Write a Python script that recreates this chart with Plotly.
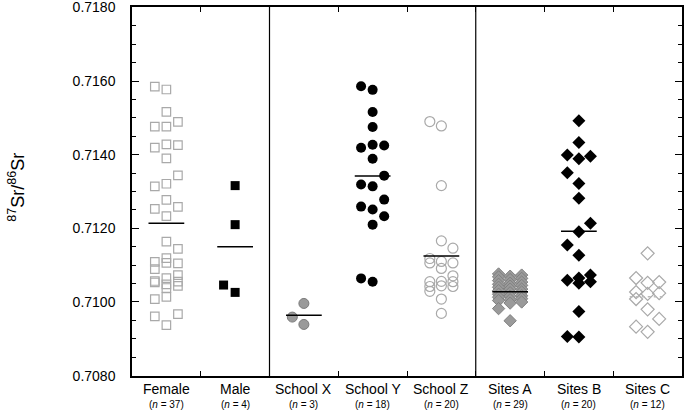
import plotly.graph_objects as go

# ---------------- data ----------------
categories = ["Female", "Male", "School X", "School Y", "School Z", "Sites A", "Sites B", "Sites C"]
n_labels = ["37", "4", "3", "18", "20", "29", "20", "12"]
y_ticks = [0.7080, 0.7100, 0.7120, 0.7140, 0.7160, 0.7180]

female = [0.71585, 0.71577, 0.71516, 0.71476, 0.71476, 0.71489, 0.71419, 0.71428, 0.71426,
          0.71390, 0.71344, 0.71314, 0.71321, 0.71277, 0.71253, 0.71258, 0.71233,
          0.71109, 0.71089, 0.71057, 0.71008, 0.70961, 0.71053,
          0.71164, 0.71119, 0.71106, 0.71065, 0.71048, 0.71038, 0.71014, 0.70937,
          0.71144, 0.71105, 0.71073, 0.71055, 0.71044, 0.70967]
female_col = [-1, 0, 0, -1, 0, 1, -1, 0, 1,
              0, 1, -1, 0, 0, -1, 1, 0,
              -1, -1, -1, -1, -1, -1,
              0, 0, 0, 0, 0, 0, 0, 0,
              1, 1, 1, 1, 1, 1]

male = [0.71316, 0.71210, 0.71046, 0.71026]
male_col = [0, 0, -1, 0]

school_x = [0.70996, 0.70959, 0.70939]
school_x_col = [0, -1, 0]

school_y = [0.71586, 0.71576, 0.71516, 0.71475, 0.71419, 0.71427, 0.71425, 0.71389, 0.71343,
            0.71319, 0.71314, 0.71278, 0.71259, 0.71251, 0.71233, 0.71210, 0.71064, 0.71055]
school_y_col = [-1, 0, 0, 0, -1, 0, 1, 0, 1,
                -1, 0, 1, -1, 0, 1, 0, -1, 0]

school_z = [0.71490, 0.71478, 0.71316, 0.71166, 0.71146, 0.71118, 0.71106, 0.71110, 0.71091,
            0.71106, 0.71071, 0.71055, 0.71055, 0.71042, 0.71029, 0.71056, 0.71044, 0.71042,
            0.71008, 0.70969]
school_z_col = [-1, 0, 0, 0, 1, -1, -1, 0, 0,
                1, 1, 1, -1, -1, -1, 0, 0, 1,
                0, 0]

sites_a = [0.71076, 0.71068, 0.71058, 0.71048, 0.71040, 0.71031, 0.71021, 0.71013, 0.71004, 0.70982,
           0.71070, 0.71061, 0.71051, 0.71043, 0.71035, 0.71025, 0.71016, 0.71006, 0.70997, 0.70949,
           0.71073, 0.71064, 0.71054, 0.71045, 0.71035, 0.71027, 0.71017, 0.71009, 0.71000]
sites_a_col = [-1] * 10 + [0] * 10 + [1] * 9

sites_b = [0.71492, 0.71433, 0.71399, 0.71389, 0.71396, 0.71351, 0.71322, 0.71282, 0.71214, 0.71191,
           0.71155, 0.71127, 0.71059, 0.71065, 0.71051, 0.71073, 0.71055, 0.70974, 0.70906, 0.70905]
sites_b_col = [0, 0, -1, 0, 1, -1, 0, 0, 1, 0,
               -1, 0, -1, 0, 0, 1, 1, 0, -1, 0]

sites_c = [0.71132, 0.71065, 0.71052, 0.71054, 0.71027, 0.71022, 0.71024, 0.71008, 0.70980,
           0.70954, 0.70933, 0.70919]
sites_c_col = [0, -1, 0, 1, -1, 0, 1, -1, 0, 1, -1, 0]

group_lines = [0.71214, 0.71150, 0.70964, 0.71342, 0.71125, 0.71028, 0.71192, 0.71014]

# ---------------- styles ----------------
groups = [
    (female, female_col, dict(symbol="square-open", size=8.5, color="#a9a9a9", line=dict(width=1.2, color="#a9a9a9"))),
    (male, male_col, dict(symbol="square", size=9, color="black", line=dict(width=0))),
    (school_x, school_x_col, dict(symbol="circle", size=10, color="#9a9a9a", line=dict(width=1, color="#7a7a7a"))),
    (school_y, school_y_col, dict(symbol="circle", size=10, color="black", line=dict(width=0))),
    (school_z, school_z_col, dict(symbol="circle-open", size=10, color="#a9a9a9", line=dict(width=1.2, color="#a9a9a9"))),
    (sites_a, sites_a_col, dict(symbol="diamond", size=9.5, color="#9a9a9a", line=dict(width=1, color="#808080"))),
    (sites_b, sites_b_col, dict(symbol="diamond", size=10, color="black", line=dict(width=0))),
    (sites_c, sites_c_col, dict(symbol="diamond-open", size=10, color="#a9a9a9", line=dict(width=1.2, color="#a9a9a9"))),
]
jit = 0.168

fig = go.Figure()
for i, (vals, cols, mk) in enumerate(groups):
    fig.add_trace(go.Scatter(
        x=[i + 0.5 + c * jit for c in cols], y=vals, mode="markers",
        marker=mk, showlegend=False, hoverinfo="y", cliponaxis=False))

for i, v in enumerate(group_lines):
    lc = "#bbbbbb" if i == 7 else "black"
    dash = "dot" if i == 7 else "solid"
    fig.add_trace(go.Scatter(x=[i + 0.5 - 0.26, i + 0.5 + 0.26], y=[v, v], mode="lines",
                             line=dict(color=lc, width=1.5, dash=dash), showlegend=False, hoverinfo="skip"))

for xs in [2, 5]:
    fig.add_shape(type="line", xref="x", yref="paper", x0=xs, x1=xs, y0=0, y1=1,
                  line=dict(color="black", width=1.2))

font_family = "Liberation Sans, Arial, sans-serif"
for i, (c, n) in enumerate(zip(categories, n_labels)):
    fig.add_annotation(x=i + 0.5, xref="x", y=0, yref="paper", yanchor="middle", yshift=-13,
                       text=c, showarrow=False, font=dict(size=14, color="black", family=font_family))
    fig.add_annotation(x=i + 0.5, xref="x", y=0, yref="paper", yanchor="middle", yshift=-28,
                       text="(<i>n</i> = " + n + ")", showarrow=False,
                       font=dict(size=10, color="black", family=font_family))

fig.add_annotation(x=-0.209, xref="paper", xanchor="center", y=0.51, yref="paper", yanchor="middle",
                   textangle=-90, text="<sup>87</sup>Sr/<sup>86</sup>Sr", showarrow=False,
                   font=dict(size=18, color="black", family=font_family))

fig.update_layout(
    width=685, height=411,
    margin=dict(l=132, r=3, t=7, b=35, autoexpand=False),
    paper_bgcolor="white", plot_bgcolor="white",
    font=dict(family=font_family, color="black"),
    xaxis=dict(range=[0, 8], tickmode="array", tickvals=[1, 2, 3, 4, 5, 6, 7], showticklabels=False,
               ticks="inside", ticklen=5, tickwidth=1.2, tickcolor="black",
               showline=True, linecolor="black", linewidth=1.5, mirror="ticks",
               showgrid=False, zeroline=False, fixedrange=True, automargin=False),
    yaxis=dict(range=[0.70799, 0.71801], tickmode="array", tickvals=y_ticks,
               ticktext=["%.4f" % t for t in y_ticks], ticklabeloverflow="allow",
               ticks="inside", ticklen=7, tickwidth=1.2, tickcolor="black",
               minor=dict(dtick=0.0005, tick0=0.708, ticks="inside", ticklen=4, tickwidth=1,
                          tickcolor="black", showgrid=False),
               showline=True, linecolor="black", linewidth=1.5, mirror="ticks",
               showgrid=False, zeroline=False, ticklabelstandoff=12, automargin=False,
               tickfont=dict(size=14, color="black", family=font_family)),
)

fig.write_html("out.html", config={"displayModeBar": False},
               post_script="document.body.style.margin='0';document.body.style.padding='0';")
